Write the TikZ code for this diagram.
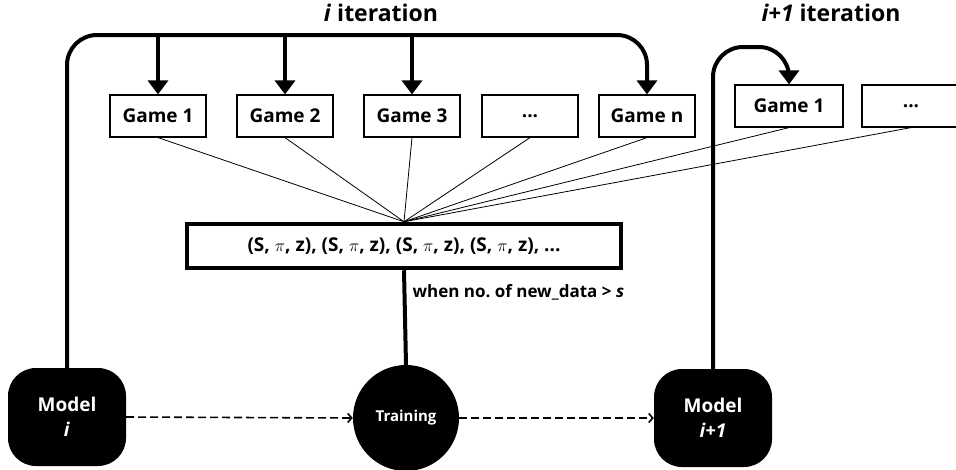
\documentclass[tikz,border=0pt]{standalone}
\usepackage{fontspec}
\setmainfont{Open Sans}
\usetikzlibrary{arrows.meta}

\begin{document}
\begin{tikzpicture}[x=1pt,y=-1pt,
  game/.style={draw,line width=1.2pt,minimum width=96pt,minimum height=42pt,inner sep=0pt,font=\fontsize{19}{21}\selectfont\bfseries},
  model/.style={fill=black,rounded corners=28pt,minimum width=118pt,minimum height=98pt,text=white,align=center,font=\fontsize{19}{25}\selectfont\bfseries},
  loopline/.style={line width=4pt,rounded corners=30pt},
  bigtip/.style={-{Triangle[width=20pt,length=14pt]}},
  thinline/.style={line width=0.8pt},
  flow/.style={line width=1.6pt,dash pattern=on 8pt off 4pt,-{Straight Barb[length=4pt,width=9pt]}}]
\useasboundingbox (0,0) rectangle (956,469);

% games of iteration i
\node[game] (g1) at (158,116) {Game 1};
\node[game] (g2) at (285,116) {Game 2};
\node[game] (g3) at (412,116) {Game 3};
\node[game] (gd) at (530,116) {...};
\node[game] (gn) at (647,116) {Game n};

% games of iteration i+1
\node[game,minimum width=108pt] (h1) at (789,106) {Game 1};
\node[game,minimum width=98pt] (hd) at (911,106) {...};

% collected data
\node[draw,line width=4.5pt,minimum width=434pt,minimum height=44pt,font=\fontsize{19}{21}\selectfont\bfseries] (data) at (404,246)
  {(S, $\pi$, z), (S, $\pi$, z), (S, $\pi$, z), (S, $\pi$, z), ...};

% models and training
\node[model] (mi) at (67,417) {Model\\\textit{i}};
\node[circle,fill=black,minimum size=106pt,text=white,font=\fontsize{15}{18}\selectfont\bfseries] (tr) at (406,418) {Training};
\node[model] (mj) at (713,418) {Model\\\textit{i+1}};

% labels
\node[font=\fontsize{23}{26}\selectfont\bfseries] (hi) at (381,13) {\textit{i} iteration};
\node[font=\fontsize{23}{26}\selectfont\bfseries] (hj) at (831,13) {\textit{i+1} iteration};
\node[anchor=west,font=\fontsize{17}{20}\selectfont\bfseries] (cond) at (409,292) {when no.\ of new\_data > \textit{s}};

\coordinate (topi) at (647,35);
\coordinate (topj) at (789,47);

% loops
\draw[loopline,bigtip] (mi.north) |- (topi) -- (gn.north);
\foreach \g in {g1,g2,g3}
  \draw[line width=4pt,bigtip] (\g.north |- topi) -- (\g.north);
\draw[loopline,bigtip] (mj.north) |- (topj) -- (h1.north);

% games to data
\foreach \g in {g1,g2,g3,gd,gn,h1,hd}
  \draw[thinline] (\g.south) -- (data.north);

\draw[line width=4pt] (data.south) -- (tr.north);
\draw[flow] (mi.east) -- (tr.west);
\draw[flow] (tr.east) -- (mj.west);
\end{tikzpicture}
\end{document}
